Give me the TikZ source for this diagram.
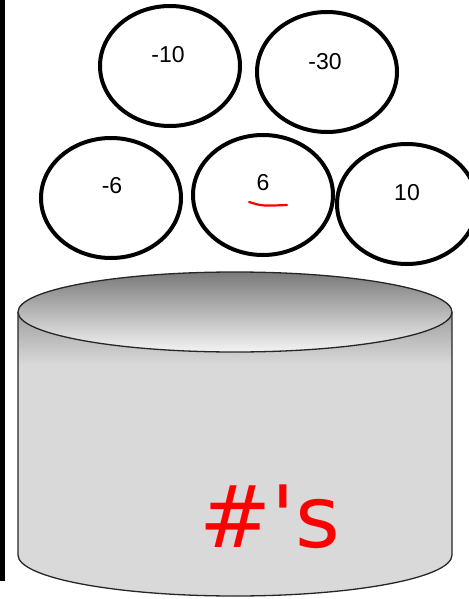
\documentclass[tikz,border=0pt]{standalone}
\usepackage{fontspec}
\setmainfont{Liberation Sans}
\newfontfamily\handfont{DejaVu Sans}
\usepackage{xcolor}
\usepackage{tikz}
\usetikzlibrary{positioning, calc, shapes}
\definecolor{drumgray}{HTML}{D9D9D9}
\definecolor{lidtop}{HTML}{7A7A7A}
\definecolor{lidbot}{HTML}{F4F4F4}

\begin{document}
\begin{tikzpicture}[x=1pt, y=1pt,
    ball/.style={ellipse, draw, line width=4pt, minimum width=140pt, minimum height=120pt, inner sep=0pt},
    num/.style={font=\fontsize{23}{23}\selectfont, inner sep=0pt}]
    \useasboundingbox (0,0) rectangle (468,-599);
    % side bar
    \fill (0,0) rectangle (4.5,-581);

    % drum
    \fill[drumgray] (18,-312) -- (18,-555) arc[start angle=180, end angle=360, x radius=217, y radius=41]
        -- (452,-312) -- cycle;
    \begin{scope}
        \clip (18,-312) -- (18,-555) arc[start angle=180, end angle=360, x radius=217, y radius=41]
            -- (452,-312) -- cycle;
        \shade[top color=gray!75, bottom color=drumgray] (18,-312) rectangle (452,-365);
    \end{scope}
    \draw[line width=1.3pt, black!85] (18,-312) -- (18,-555) arc[start angle=180, end angle=360, x radius=217, y radius=41]
        -- (452,-312);
    \shade[top color=lidtop, bottom color=lidbot, draw=black!85, line width=1.3pt]
        (235,-312) ellipse[x radius=217, y radius=40];

    \node[ball] (n1) at (170,-66) {};
    \node[ball] (n2) at (327,-72) {};
    \node[ball] (n3) at (111,-198) {};
    \node[ball] (n4) at (263,-195) {};
    \node[ball] (n5) at (407,-204) {};

    \node[num] (t1) at ($(n1)+(-2,11)$) {-10};
    \node[num] (t2) at ($(n2)+(-2,10)$) {-30};
    \node[num] (t3) at ($(n3)+(1,12)$) {-6};
    \node[num] (t4) at ($(n4)+(0,12)$) {6};
    \node[num] (t5) at ($(n5)+(0,11)$) {10};

    \draw[red, line width=2.2pt, line cap=round] (249,-202) .. controls (262,-206) .. (287,-205);

    \node[red, font=\handfont\fontsize{86}{86}\selectfont, inner sep=0pt] (mark) at (270,-517) {\#'s};
\end{tikzpicture}
\end{document}
